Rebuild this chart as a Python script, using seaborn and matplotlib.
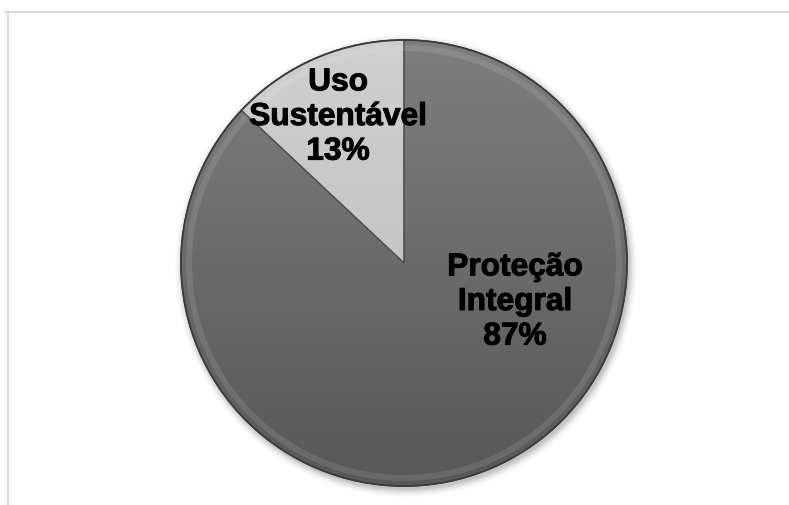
import numpy as np
import matplotlib
matplotlib.use("Agg")
import matplotlib.pyplot as plt
import matplotlib.patheffects as pe
import seaborn as sns
from matplotlib.patches import Circle, Wedge
from matplotlib.lines import Line2D
from matplotlib.colors import LinearSegmentedColormap

# Share of protected areas by management group
categories = ["Proteção\nIntegral", "Uso\nSustentável"]
shares = [87, 13]
slice_colors = ["#6e6e6e", "#c8c8c8"]
# top -> bottom shade of each slice
slice_shades = [("#7e7e7e", "#585858"), ("#cfcfcf", "#bcbcbc")]

sns.set_theme(style="white")
plt.rcParams["font.family"] = ["Liberation Sans", "DejaVu Sans"]

W, H = 789, 506
fig = plt.figure(figsize=(W / 100, H / 100), dpi=100)
ax = fig.add_axes([0, 0, 1, 1])

cx, cy, r = 404, 506 - 264, 223

# soft drop shadow under the pie
for i, a in enumerate(np.linspace(0.06, 0.012, 7)):
    ax.add_patch(Circle((cx + 2, cy - 3), r + 0.5 + i * 1.3, color="black",
                        alpha=a, lw=0, zorder=0))

wedges, _ = ax.pie(shares, colors=slice_colors, startangle=90, counterclock=False,
                   center=(cx, cy), radius=r, frame=True,
                   wedgeprops=dict(edgecolor="#555555", linewidth=0.9))
ax.set_xlim(0, W)
ax.set_ylim(0, H)
ax.set_aspect("equal")
ax.axis("off")

# vertical shading inside each slice
grad = np.linspace(0, 1, 256)[:, None].repeat(2, axis=1)
for w, (top, bottom) in zip(wedges, slice_shades):
    cmap = LinearSegmentedColormap.from_list("shade", [top, bottom])
    im = ax.imshow(grad, extent=(cx - r, cx + r, cy - r, cy + r), cmap=cmap,
                   origin="upper", aspect="auto", zorder=w.get_zorder() + 0.1)
    im.set_clip_path(w)
    edge = Wedge((cx, cy), r, w.theta1, w.theta2, fill=False,
                 edgecolor="#505050", lw=0.9, zorder=w.get_zorder() + 0.2)
    ax.add_patch(edge)

# bevelled rim: faint light band just inside the edge
for w in wedges:
    rim = Wedge((cx, cy), r - 5, w.theta1, w.theta2, width=6, fill=True,
                facecolor="white", edgecolor="none", alpha=0.10, zorder=3)
    rim.set_clip_path(w)
    ax.add_patch(rim)
ax.add_patch(Circle((cx, cy), r, fill=False, edgecolor="#3c3c3c", lw=1.3, zorder=4))

label_pos = [(515, 506 - 303), (338, 506 - 118)]
for name, val, (tx, ty) in zip(categories, shares, label_pos):
    ax.text(tx, ty, f"{name}\n{val}%", ha="center", va="center", fontsize=22.8,
            fontweight="bold", color="black", linespacing=1.2, zorder=6,
            path_effects=[pe.withStroke(linewidth=0.7, foreground="black")])

# chart frame
fig.add_artist(Line2D([5 / W, 1], [1 - 12.5 / H] * 2, color="#d9d9d9", lw=1.5))
fig.add_artist(Line2D([7.5 / W] * 2, [0, 1 - 12.5 / H], color="#d9d9d9", lw=1.5))

fig.savefig("out.png", dpi=100, facecolor="white")
